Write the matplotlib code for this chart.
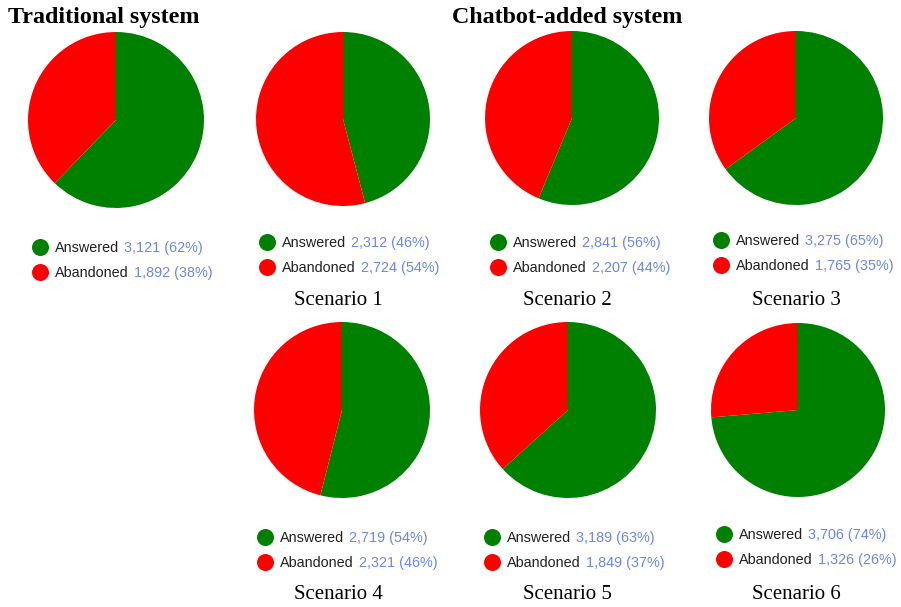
import matplotlib.pyplot as plt

# data
labels = ['Answered', 'Abandoned']
chart_names = ['Traditional', 'Scenario 1', 'Scenario 2', 'Scenario 3',
               'Scenario 4', 'Scenario 5', 'Scenario 6']
answered = [3121, 2312, 2841, 3275, 2719, 3189, 3706]
abandoned = [1892, 2724, 2207, 1765, 2321, 1849, 1326]

colors = ['#008000', '#ff0000']
value_color = '#6a88ea'
label_color = '#222222'

W, H = 901, 607
fig = plt.figure(figsize=(W / 100, H / 100), dpi=100)
renderer = fig.canvas.get_renderer()

# layout in pixels: pie centre, radius, legend marker, caption
centres = [(116, 120), (343, 119), (572, 118), (796, 118),
           (342, 410), (568, 410), (798, 410)]
radii = [88, 87, 87, 87, 88, 88, 87]
legend_xy = [(40, 246.5), (267, 241.5), (498, 242), (721, 240),
             (265, 537), (492, 537), (724, 534)]
caption_xy = [None, (338, 305), (567, 305), (796, 305),
              (338, 599), (567, 599), (796, 599)]

for i, name in enumerate(chart_names):
    cx, cy = centres[i]
    r = radii[i]
    ax = fig.add_axes([(cx - r) / W, 1 - (cy + r) / H, 2 * r / W, 2 * r / H])
    ax.pie([answered[i], abandoned[i]], colors=colors, startangle=90,
           counterclock=False, radius=1.0)
    ax.set_xlim(-1, 1)
    ax.set_ylim(-1, 1)
    ax.set_aspect('auto')
    ax.axis('off')

# overlay axes in pixel coordinates for legends and captions
ov = fig.add_axes([0, 0, 1, 1], zorder=5)
ov.set_xlim(0, W)
ov.set_ylim(H, 0)
ov.axis('off')
ov.patch.set_alpha(0)

fs = 10.4
for i, name in enumerate(chart_names):
    lx, ly = legend_xy[i]
    total = answered[i] + abandoned[i]
    vals = [answered[i], abandoned[i]]
    for j, lab in enumerate(labels):
        y = ly + j * 25
        ov.scatter([lx], [y], s=150, color=colors[j], zorder=6, linewidths=0)
        t = ov.text(lx + 15, y + 5.2, lab, fontsize=fs,
                    family='Liberation Sans', color=label_color,
                    va='baseline', ha='left')
        pct = round(100 * vals[j] / total)
        # value text goes right after the label
        bb = t.get_window_extent(renderer=renderer)
        ov.text(bb.x1 + 5, y + 5.2, f'{vals[j]:,} ({pct}%)', fontsize=fs,
                family='Liberation Sans', color=value_color,
                va='baseline', ha='left')
    if caption_xy[i] is not None:
        ov.text(caption_xy[i][0], caption_xy[i][1], name, fontsize=15,
                family='Liberation Serif', color='black',
                ha='center', va='baseline')

ov.text(8, 23, 'Traditional system', fontsize=17.3, fontweight='bold',
        family='Liberation Serif', ha='left', va='baseline')
ov.text(567, 23, 'Chatbot-added system', fontsize=17.3, fontweight='bold',
        family='Liberation Serif', ha='center', va='baseline')

fig.savefig('out.png', dpi=100)
